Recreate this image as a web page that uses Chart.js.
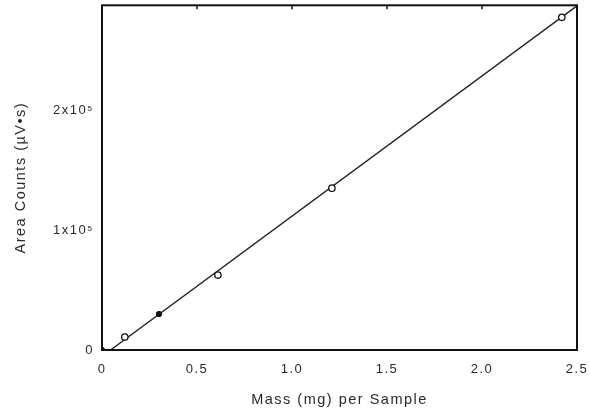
<!DOCTYPE html>
<html><head><meta charset="utf-8">
<script src="https://cdn.jsdelivr.net/npm/chart.js@4"></script>
<style>html,body{margin:0;padding:0;background:#fff}#wrap{width:590px;height:413px}</style>
</head><body><div id="wrap"><canvas id="c"></canvas></div>
<script>
const massOpen = [0.12, 0.61, 1.21, 2.42];
const countsOpen = [10800, 62500, 135000, 277500];
const massFilled = [0.0, 0.30];
const countsFilled = [0, 30000];
const fitMass = [0.045, 2.5];
const fitCounts = [0, 287000];
const xTicks = [0, 0.5, 1.0, 1.5, 2.0, 2.5];
const yTicks = [0, 100000, 200000];
const yTickLabels = ['0', '1x10⁵', '2x10⁵'];

const pts = (xs, ys) => xs.map((x, i) => ({x, y: ys[i]}));

const spacingPlugin = {
  id: 'spacing',
  beforeUpdate(chart) { chart.ctx.letterSpacing = '1.5px'; },
  beforeLayout(chart) { chart.ctx.letterSpacing = '1.5px'; },
  beforeDraw(chart) { chart.ctx.letterSpacing = '1.5px'; }
};

const framePlugin = {
  id: 'frame',
  afterDraw(chart) {
    const {ctx, chartArea: a, scales} = chart;
    ctx.save();
    ctx.strokeStyle = '#111';
    ctx.lineWidth = 2;
    ctx.strokeRect(a.left, a.top, a.right - a.left, a.bottom - a.top);
    ctx.lineWidth = 1.5;
    xTicks.forEach(v => {
      const px = scales.x.getPixelForValue(v);
      ctx.beginPath(); ctx.moveTo(px, a.top); ctx.lineTo(px, a.top + 4); ctx.stroke();
    });
    ctx.restore();
  }
};

const tickFont = {family: 'Liberation Sans', size: 13};
const titleFont = {family: 'Liberation Sans', size: 14.5};

new Chart(document.getElementById('c'), {
  type: 'scatter',
  data: {
    datasets: [
      {data: pts(fitMass, fitCounts), showLine: true, borderColor: '#222', borderWidth: 1.4, pointRadius: 0, order: 2},
      {data: pts(massOpen, countsOpen), pointStyle: 'circle', pointRadius: 3.2, borderColor: '#111', backgroundColor: '#fff', borderWidth: 1.3, order: 1},
      {data: pts(massFilled, countsFilled), pointStyle: 'circle', pointRadius: 2.7, borderColor: '#111', backgroundColor: '#111', borderWidth: 1, order: 1}
    ]
  },
  options: {
    responsive: true, maintainAspectRatio: false, animation: false,
    layout: {padding: {left: 0, right: 13, top: 5, bottom: 0}},
    plugins: {legend: {display: false}, tooltip: {enabled: false}},
    scales: {
      x: {
        type: 'linear', min: 0, max: 2.5,
        afterBuildTicks(s) { s.ticks = xTicks.map(v => ({value: v})); },
        afterFit(s) { s.height = 63; s.paddingLeft = 0; s.paddingRight = 0; },
        grid: {display: false, drawTicks: false},
        border: {display: false},
        ticks: {color: '#2a2a2a', font: tickFont, padding: 12,
          callback: v => v === 0 ? '0' : v.toFixed(1)},
        title: {display: true, text: 'Mass (mg) per Sample', color: '#2a2a2a', font: titleFont, padding: {top: 14}}
      },
      y: {
        type: 'linear', min: 0, max: 287500,
        afterBuildTicks(s) { s.ticks = yTicks.map(v => ({value: v})); },
        afterFit(s) { s.width = 102; s.paddingTop = 0; s.paddingBottom = 0; },
        grid: {display: false, drawTicks: false},
        border: {display: false},
        ticks: {color: '#2a2a2a', font: tickFont, padding: 8,
          callback: (v) => yTickLabels[yTicks.indexOf(v)]},
        title: {display: true, text: 'Area Counts (µV•s)', color: '#2a2a2a', font: titleFont, padding: {top: 12, bottom: 0}}
      }
    }
  },
  plugins: [spacingPlugin, framePlugin]
});
</script>
</body></html>
